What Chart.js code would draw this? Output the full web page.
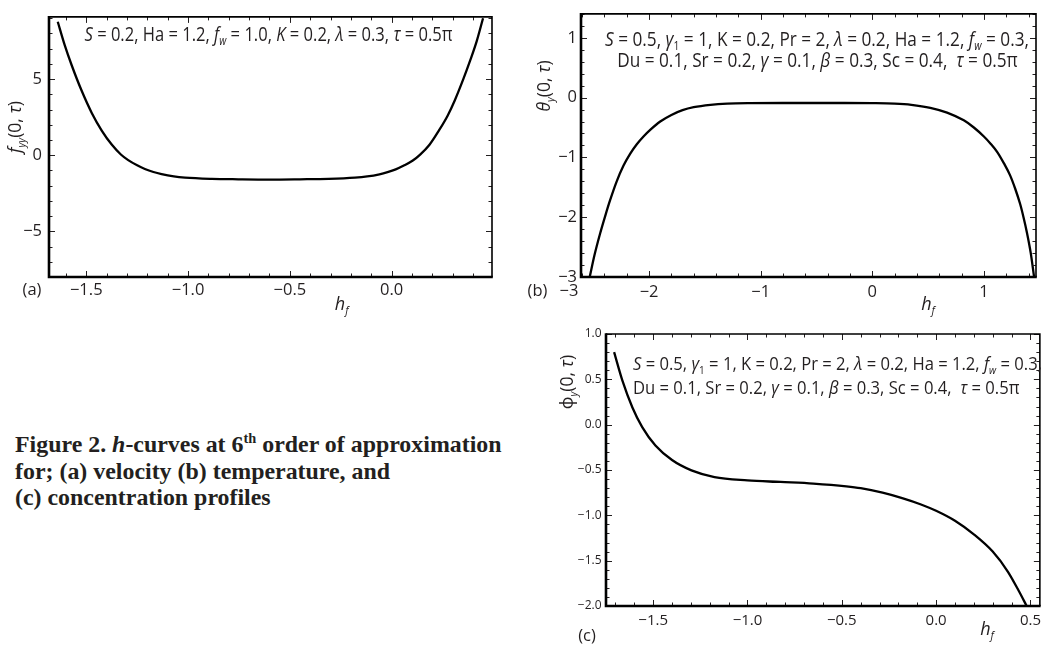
<!DOCTYPE html>
<html>
<head>
<meta charset="utf-8">
<script src="https://cdn.jsdelivr.net/npm/chart.js@4.4.1/dist/chart.umd.min.js"></script>
<style>
html,body{margin:0;padding:0;background:#fff;width:1047px;height:645px;overflow:hidden;}
canvas{position:absolute;display:block;}
#caption{position:absolute;left:15px;top:431px;font-family:"Liberation Serif","Times New Roman",serif;font-weight:bold;font-size:23.9px;line-height:26.7px;color:#231f20;white-space:nowrap;}
#caption .sup{font-size:0.6em;line-height:0;position:relative;top:-0.65em;}
</style>
</head>
<body>
<canvas id="ca" width="505" height="320" style="left:0;top:0"></canvas>
<canvas id="cb" width="532" height="320" style="left:515px;top:0"></canvas>
<canvas id="cc" width="532" height="325" style="left:515px;top:320px"></canvas>
<div id="caption">Figure 2. <i>h</i>-curves at 6<span class="sup">th</span> order of approximation<br>for; (a) velocity (b) temperature, and<br>(c) concentration profiles</div>
<script>
// ---------- data ----------
// (a) velocity: f_yy(0, tau) versus h_f
const aX = [-1.640,-1.605,-1.572,-1.523,-1.473,-1.424,-1.375,-1.330,-1.294,-1.250,-1.212,-1.170,-1.130,-1.070,-1.015,-0.884,-0.753,-0.600,-0.450,-0.310,-0.180,-0.120,-0.060,-0.020,0.020,0.060,0.104,0.140,0.186,0.232,0.275,0.310,0.352,0.385,0.418,0.449];
const aY = [8.77,7.20,5.93,4.25,2.78,1.62,0.70,0.05,-0.32,-0.66,-0.90,-1.10,-1.24,-1.39,-1.47,-1.55,-1.58,-1.60,-1.58,-1.55,-1.47,-1.39,-1.25,-1.11,-0.93,-0.68,-0.35,0.04,0.69,1.62,2.60,3.60,5.00,6.20,7.50,9.00];
// (b) temperature: theta_y(0, tau) versus h_f
const bX = [-2.532,-2.490,-2.440,-2.390,-2.350,-2.290,-2.230,-2.170,-2.110,-2.050,-1.990,-1.900,-1.800,-1.700,-1.600,-1.450,-1.300,-1.100,-0.800,-0.540,-0.250,0.000,0.200,0.350,0.520,0.670,0.820,0.910,1.000,1.060,1.120,1.180,1.235,1.280,1.325,1.355,1.385,1.420,1.450];
const bY = [-3.00,-2.64,-2.28,-1.96,-1.72,-1.40,-1.14,-0.94,-0.78,-0.65,-0.54,-0.40,-0.29,-0.21,-0.16,-0.12,-0.10,-0.092,-0.09,-0.09,-0.09,-0.092,-0.10,-0.12,-0.17,-0.25,-0.38,-0.50,-0.65,-0.77,-0.91,-1.10,-1.30,-1.52,-1.78,-2.00,-2.25,-2.60,-3.00];
// (c) concentration: phi_y(0, tau) versus h_f
const cX = [-1.707,-1.663,-1.610,-1.558,-1.488,-1.400,-1.297,-1.175,-1.000,-0.825,-0.651,-0.476,-0.400,-0.284,-0.180,-0.080,0.000,0.100,0.200,0.300,0.380,0.440,0.480];
const cY = [0.80,0.486,0.19,-0.027,-0.23,-0.39,-0.504,-0.578,-0.614,-0.632,-0.65,-0.68,-0.70,-0.75,-0.81,-0.88,-0.95,-1.06,-1.21,-1.40,-1.62,-1.84,-2.00];

// tick labels
const aXTicks = [-1.5,-1.0,-0.5,0.0];
const aYTicks = [-5,0,5];
const bXTicks = [-2,-1,0,1];
const bYTicks = [-3,-2,-1,0,1];
const cXTicks = [-1.5,-1.0,-0.5,0.0,0.5];
const cYTicks = [-2.0,-1.5,-1.0,-0.5,0.0,0.5,1.0];

// ---------- styling helpers ----------
const FONT = '"Open Sans","Noto Sans","DejaVu Sans",sans-serif';
const INK = '#231f20';

function fontFor(f, size){
  const sub = f.includes('s');
  return (f.includes('i') ? 'italic ' : '') + (sub ? (size*0.6).toFixed(2) : size) + 'px ' + FONT;
}
function richWidth(ctx, segs, size){
  let w = 0;
  for (const [t, f=''] of segs){ ctx.font = fontFor(f, size); w += ctx.measureText(t).width; }
  return w;
}
function drawRich(ctx, segs, x, y, size, align, sx){
  sx = sx || 1;
  const w = richWidth(ctx, segs, size);
  ctx.save();
  ctx.translate(x, y);
  ctx.scale(sx, 1);
  let cx = align === 'center' ? -w/2 : (align === 'right' ? -w : 0);
  ctx.textBaseline = 'middle';
  ctx.textAlign = 'left';
  ctx.fillStyle = INK;
  for (const [t, f=''] of segs){
    ctx.font = fontFor(f, size);
    ctx.fillText(t, cx, (f.includes('s') ? size*0.32 : 0));
    cx += ctx.measureText(t).width;
  }
  ctx.restore();
}
const fmt = d => v => (d ? Number(v).toFixed(d) : String(Math.round(v))).replace('-', '\u2212');

const lineB1 = [['S','i'],[' = 0.5, '],['\u03b3','i'],['1','s'],[' = 1, K = 0.2, Pr = 2, '],['\u03bb','i'],[' = 0.2, Ha = 1.2, '],['f','i'],['w','is'],[' = 0.3,']];
const lineB2 = [['Du = 0.1, Sr = 0.2, '],['\u03b3','i'],[' = 0.1, '],['\u03b2','i'],[' = 0.3, Sc = 0.4,  '],['\u03c4','i'],[' = 0.5\u03c0']];

const panels = [
  { id:'ca', left:0, top:0, w:505, h:320, area:{l:49,t:7,r:492,b:277},
    data:[aX,aY],
    x:{min:-1.683,max:0.493,ticks:aXTicks,minor:0.1,dec:1,pad:3,size:16.5},
    y:{min:-8,max:9.09,ticks:aYTicks,minor:1,dec:0,pad:7,size:16.5},
    lines:[{segs:[['S','i'],[' = 0.2, Ha = 1.2, '],['f','i'],['w','is'],[' = 1.0, '],['K','i'],[' = 0.2, '],['\u03bb','i'],[' = 0.3, '],['\u03c4','i'],[' = 0.5\u03c0']], x:268.5, y:35, align:'center'}],
    fit:368, tsize:19.5,
    yTitle:{segs:[['f','i'],['yy','is'],['(0, '],['\u03c4','i'],[')']], x:16, y:127},
    xTitle:{segs:[['h','i'],['f','is']], x:341.7, y:305},
    labels:[['(a)',32,290]] },
  { id:'cb', left:515, top:0, w:532, h:320, area:{l:581,t:7,r:1036,b:277},
    data:[bX,bY],
    x:{min:-2.61,max:1.467,ticks:bXTicks,minor:0.2,dec:0,pad:5,size:16.5},
    y:{min:-3,max:1.40,ticks:bYTicks,minor:0.2,dec:0,pad:4,size:16.5},
    lines:[{segs:lineB1, x:817, y:40, align:'center'},{segs:lineB2, x:817.5, y:61.7, align:'center'}],
    fit:424, tsize:19.5,
    yTitle:{segs:[['\u03b8','i'],['y','is'],['(0, '],['\u03c4','i'],[')']], x:545, y:86},
    xTitle:{segs:[['h','i'],['f','is']], x:928, y:305},
    labels:[['(b)',537.5,291.7],['\u22123',569,291.7]] },
  { id:'cc', left:515, top:320, w:532, h:325, area:{l:606,t:334,r:1046,b:606},
    data:[cX,cY],
    x:{min:-1.75,max:0.55,ticks:cXTicks,minor:0.1,dec:1,pad:6,size:15},
    y:{min:-2,max:1,ticks:cYTicks,minor:0.1,dec:1,pad:4.5,size:12},
    lines:[{segs:lineB1, x:633, y:365, align:'left'},{segs:lineB2, x:633, y:388.3, align:'left'}],
    fit:409, tsize:19,
    yTitle:{segs:[['\u03d5'],['y','is'],['(0, '],['\u03c4','i'],[')']], x:568, y:382},
    xTitle:{segs:[['h','i'],['f','is']], x:987, y:630},
    labels:[['(c)',587,636]] }
];

function decorPlugin(p){
  return {
    id:'decor',
    afterDraw(chart){
      const ctx = chart.ctx, a = chart.chartArea;
      const xs = chart.scales.x, ys = chart.scales.y;
      ctx.save();
      // inward ticks on all four sides
      ctx.strokeStyle = INK;
      ctx.lineWidth = 1;
      const drawTicksFor = (scale, cfg, horiz) => {
        const n0 = Math.ceil(cfg.min/cfg.minor - 1e-9), n1 = Math.floor(cfg.max/cfg.minor + 1e-9);
        for (let n = n0; n <= n1; n++){
          const v = n*cfg.minor;
          const major = cfg.ticks.some(t => Math.abs(t - v) < 1e-6);
          const len = major ? 6 : 3.5;
          const px = Math.round(scale.getPixelForValue(v)) + 0.5;
          ctx.beginPath();
          if (horiz){
            ctx.moveTo(px, a.bottom); ctx.lineTo(px, a.bottom - len);
            ctx.moveTo(px, a.top); ctx.lineTo(px, a.top + len);
          } else {
            ctx.moveTo(a.left, px); ctx.lineTo(a.left + len, px);
            ctx.moveTo(a.right, px); ctx.lineTo(a.right - len, px);
          }
          ctx.stroke();
        }
      };
      drawTicksFor(xs, p.x, true);
      drawTicksFor(ys, p.y, false);
      // frame
      ctx.strokeStyle = '#000';
      ctx.lineWidth = 1.6;
      ctx.beginPath();
      ctx.moveTo(a.left, a.top); ctx.lineTo(a.right, a.top); ctx.lineTo(a.right, a.bottom);
      ctx.stroke();
      ctx.lineWidth = 2.6;
      ctx.beginPath();
      ctx.moveTo(a.left, a.top - 0.8); ctx.lineTo(a.left, a.bottom); ctx.lineTo(a.right + 0.8, a.bottom);
      ctx.stroke();
      // annotation text (condensed to the reference width)
      const ox = p.left, oy = p.top;
      const sx = p.fit / richWidth(ctx, p.lines[0].segs, p.tsize);
      for (const L of p.lines) drawRich(ctx, L.segs, L.x - ox, L.y - oy, p.tsize, L.align, sx);
      // axis titles
      drawRich(ctx, p.xTitle.segs, p.xTitle.x - ox, p.xTitle.y - oy, 18, 'center');
      ctx.save();
      ctx.translate(p.yTitle.x - ox, p.yTitle.y - oy);
      ctx.rotate(-Math.PI/2);
      drawRich(ctx, p.yTitle.segs, 0, 0, 17.5, 'center');
      ctx.restore();
      // panel labels
      for (const [t, x, y] of p.labels) drawRich(ctx, [[t]], x - ox, y - oy, 16.5, 'center');
      ctx.restore();
    }
  };
}

for (const p of panels){
  const pts = p.data[0].map((x, i) => ({x, y: p.data[1][i]}));
  const yWidth = p.area.l - p.left;
  const xHeight = p.top + p.h - p.area.b;
  new Chart(document.getElementById(p.id), {
    type:'scatter',
    data:{ datasets:[{ data:pts, showLine:true, pointRadius:0, borderColor:'#000', borderWidth:2.3,
      cubicInterpolationMode:'monotone', fill:false }]},
    options:{
      responsive:false, animation:false, events:[],
      layout:{ padding:{ left:0, top:p.area.t - p.top, right:p.left + p.w - p.area.r, bottom:0 } },
      plugins:{ legend:{display:false}, tooltip:{enabled:false} },
      scales:{
        x:{ type:'linear', min:p.x.min, max:p.x.max,
            afterBuildTicks:s => { s.ticks = p.x.ticks.map(v => ({value:v})); },
            afterFit:s => { s.height = xHeight; },
            grid:{display:false, drawTicks:false}, border:{display:false},
            ticks:{ autoSkip:false, maxRotation:0, minRotation:0, padding:p.x.pad, color:INK,
                    font:{family:FONT, size:p.x.size}, callback:fmt(p.x.dec) } },
        y:{ type:'linear', min:p.y.min, max:p.y.max,
            afterBuildTicks:s => { s.ticks = p.y.ticks.map(v => ({value:v})); },
            afterFit:s => { s.width = yWidth; },
            grid:{display:false, drawTicks:false}, border:{display:false},
            ticks:{ autoSkip:false, padding:p.y.pad, color:INK,
                    font:{family:FONT, size:p.y.size}, callback:fmt(p.y.dec) } }
      }
    },
    plugins:[decorPlugin(p)]
  });
}
</script>
</body>
</html>
